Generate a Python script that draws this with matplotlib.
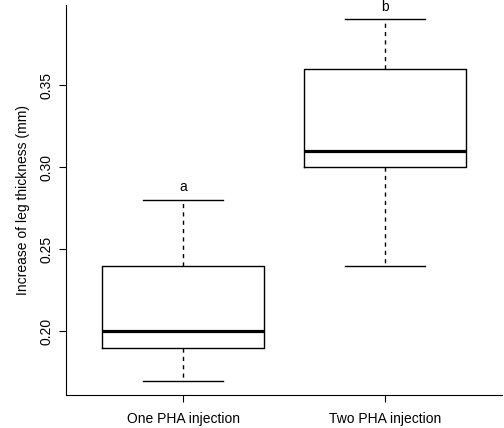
import matplotlib
matplotlib.use("Agg")
import matplotlib.pyplot as plt

# Box summaries
groups = ["One PHA injection", "Two PHA injection"]
whisker_low = [0.17, 0.24]
q1 = [0.19, 0.30]
median = [0.20, 0.31]
q3 = [0.24, 0.36]
whisker_high = [0.28, 0.39]
letters = ["a", "b"]

plt.rcParams['font.family'] = ['Liberation Sans', 'DejaVu Sans']

fig = plt.figure(figsize=(5.04, 4.28), dpi=100)
ax = fig.add_axes([66/504, 1 - 395/428, 436/504, 390/428])

stats = []
for i in range(len(groups)):
    stats.append(dict(med=median[i], q1=q1[i], q3=q3[i],
                      whislo=whisker_low[i], whishi=whisker_high[i],
                      fliers=[], label=groups[i]))

pos = list(range(1, len(groups) + 1))
ax.bxp(stats, positions=pos, widths=0.8, showfliers=False,
       boxprops=dict(color='black', linewidth=1),
       whiskerprops=dict(color='black', linewidth=1, linestyle=(0, (3, 3))),
       capprops=dict(color='black', linewidth=1),
       medianprops=dict(color='black', linewidth=2.3),
       capwidths=0.4)

#group letters above the upper whiskers
for i in range(len(groups)):
    ax.text(pos[i], whisker_high[i] + 0.0035, letters[i], ha='center', va='bottom',
            fontsize=10, clip_on=False)

ax.set_xlim(0.42, 2.58)
ax.set_ylim(0.1612, 0.3988)
ax.set_yticks([0.20, 0.25, 0.30, 0.35])
ax.set_yticklabels(['0.20', '0.25', '0.30', '0.35'], rotation=90, va='center')
ax.set_xticks(pos)
ax.set_xticklabels(groups)
ax.set_ylabel('Increase of leg thickness (mm)', fontsize=10, labelpad=7)
ax.tick_params(labelsize=10, length=5, width=0.8, pad=4)
ax.tick_params(axis='x', pad=7)
ax.spines['top'].set_visible(False)
ax.spines['right'].set_visible(False)
ax.spines['left'].set_linewidth(0.8)
ax.spines['bottom'].set_linewidth(0.8)

plt.savefig('out.png', dpi=100)
